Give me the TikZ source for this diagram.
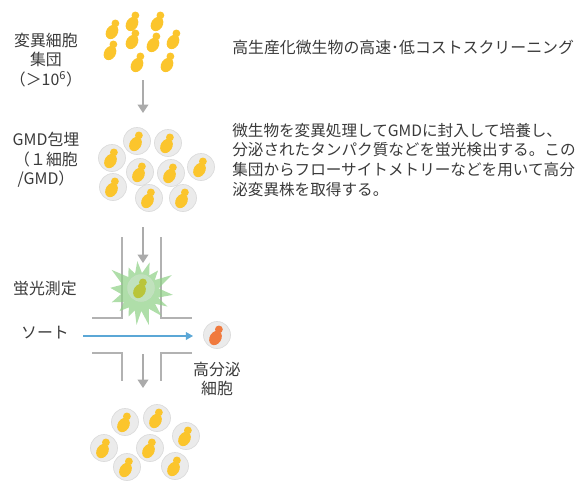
\documentclass[tikz,border=0pt]{standalone}
\usepackage{fontspec}
\setmainfont{Noto Sans CJK JP}
\usetikzlibrary{arrows.meta}

\definecolor{txtgray}{HTML}{3A3A3A}
\definecolor{cellyellow}{HTML}{FBC52C}
\definecolor{cellorange}{HTML}{F07A3E}
\definecolor{cellolive}{HTML}{B9C53A}
\definecolor{gmdfill}{HTML}{EBEBEB}
\definecolor{gmdline}{HTML}{DCDCDC}
\definecolor{arrgray}{HTML}{ABABAB}
\definecolor{wallgray}{HTML}{B2B2B2}
\definecolor{sortblue}{HTML}{5BA7D6}
\definecolor{burstgreen}{HTML}{8DD085}

\tikzset{
  lbl/.style={text=txtgray, font=\fontsize{11.3}{13.9}\selectfont, align=center, inner sep=0pt},
  flow/.style={draw=arrgray, line width=2.1pt, -{Triangle[width=7.5pt,length=6pt]}},
  wall/.style={draw=wallgray, line width=1.1pt},
  pics/yeast/.style={code={
    \fill[#1, rotate=-32] (0,0) ellipse [x radius=5.8, y radius=7.6];
    \fill[#1] (3.4,-8.6) circle [radius=3.9];
  }},
  pics/gmd/.style={code={
    \fill[gmdfill, draw=gmdline, line width=0.5pt] (0,0) circle [radius=13.5];
    \pic at (-1.5,3) {yeast=#1};
  }},
}

\begin{document}
\begin{tikzpicture}[x=0.025cm, y=-0.025cm]
  \useasboundingbox (0,0) rectangle (579,481);

  % labels on the left
  \node[lbl] (mutants) at (46,60) {変異細胞\\集団\\（＞10\textsuperscript{6}）};
  \node[lbl] (gmdlbl) at (46,160) {GMD包埋\\（１細胞\\/GMD）};
  \node[lbl] (measure) at (45,289) {蛍光測定};
  \node[lbl] (sortlbl) at (45,333) {ソート};
  \node[lbl] (hit) at (217,379) {高分泌\\細胞};

  % text on the right
  \node[lbl, anchor=west] (title) at (232,47) {高生産化微生物の高速･低コストスクリーニング};
  \node[lbl, font=\fontsize{11.1}{13.9}\selectfont, align=left, anchor=north west] (desc) at (232,123)
    {微生物を変異処理してGMDに封入して培養し、\\
     分泌されたタンパク質などを蛍光検出する。この\\
     集団からフローサイトメトリーなどを用いて高分\\
     泌変異株を取得する。};

  % mutant population
  \foreach \x/\y in {112/32, 132/24, 157/24, 110/53, 132/42, 153/45, 173/42, 137/65, 167/65}
    \pic at (\x,\y) {yeast=cellyellow};

  % cells in droplets
  \foreach \x/\y in {137/141, 168/143, 112/158, 140/172, 171/173, 201/167, 113/187, 149/198, 183/198}
    \pic at (\x,\y) {gmd=cellyellow};

  % flow channel
  \draw[wall] (122,237) -- (122,318) -- (92,318);
  \draw[wall] (161,237) -- (161,318) -- (192,318);
  \draw[wall] (92,353) -- (122,353) -- (122,381);
  \draw[wall] (192,353) -- (161,353) -- (161,381);

  % fluorescence burst
  \begin{scope}[shift={(140,292)}]
    \fill[burstgreen, opacity=0.7] (-11:19)
      \foreach \t/\r/\v in {5/33/17, 28/31/38, 48/32/62, 75/34/86, 96/33/106,
                            115/27/126, 137/28/148, 160/30/174, 188/30/203, 218/36/232,
                            245/27/255, 265/31/276, 288/31/299, 310/28/321, 332/36/349}
        { -- (\t:\r) -- (\v:19) } -- cycle;
  \end{scope}
  \fill[gmdfill, opacity=0.3, draw=gmdline] (141,288) circle [radius=13.5];
  \pic at (139.5,291) {yeast=cellolive};

  % arrows between the steps
  \coordinate (a1s) at (143,80);  \coordinate (a1e) at (143,113);
  \coordinate (a2s) at (143,227); \coordinate (a2e) at (143,263);
  \coordinate (a3s) at (143,354); \coordinate (a3e) at (143,388);
  \draw[flow] (a1s) -- (a1e);
  \draw[flow] (a2s) -- (a2e);
  \draw[flow] (a3s) -- (a3e);

  % sorting
  \coordinate (sortin) at (83,336);
  \coordinate (sortout) at (193,336);
  \draw[sortblue, line width=0.8pt, -{Triangle[width=5.5pt,length=5pt]}] (sortin) -- (sortout);
  \pic at (217,335) {gmd=cellorange};

  % sorted population
  \foreach \x/\y in {125/422, 157/418, 186/436, 104/448, 150/448, 127/467, 175/466}
    \pic at (\x,\y) {gmd=cellyellow};
\end{tikzpicture}
\end{document}
